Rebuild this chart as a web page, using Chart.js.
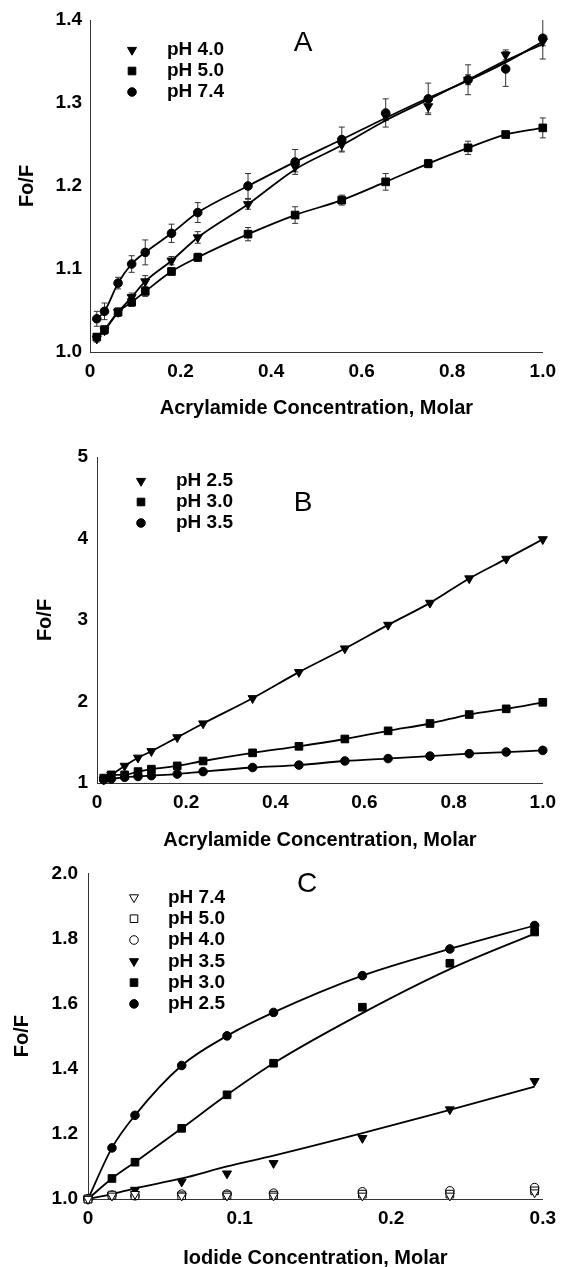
<!DOCTYPE html>
<html>
<head>
<meta charset="utf-8">
<script src="https://cdn.jsdelivr.net/npm/chart.js@4.4.0/dist/chart.umd.min.js"></script>
<style>
  html, body { margin: 0; padding: 0; background: #fff; }
  .panel { position: absolute; left: 0; width: 564px; }
</style>
</head>
<body>
<div class="panel" style="top:0"><canvas id="chartA" width="564" height="420"></canvas></div>
<div class="panel" style="top:420px"><canvas id="chartB" width="564" height="432"></canvas></div>
<div class="panel" style="top:852px"><canvas id="chartC" width="564" height="415"></canvas></div>
<script>
// acrylamide concentrations (panels A and B)
const acrylamide = [0.015, 0.032, 0.062, 0.092, 0.122, 0.18, 0.238, 0.349, 0.453, 0.556, 0.653, 0.747, 0.835, 0.918, 1.0]

// panel A
const a_pH40 = [1.016, 1.026, 1.048, 1.066, 1.085, 1.11, 1.138, 1.178, 1.223, 1.25, 1.284, 1.296, 1.328, 1.358, 1.374]
const a_pH50 = [1.018, 1.027, 1.048, 1.06, 1.073, 1.097, 1.114, 1.142, 1.165, 1.183, 1.205, 1.227, 1.246, 1.262, 1.27]
const a_pH74 = [1.04, 1.049, 1.083, 1.106, 1.12, 1.143, 1.168, 1.2, 1.229, 1.256, 1.288, 1.305, 1.328, 1.341, 1.378]
const a_fit40 = [1.016, 1.026, 1.048, 1.066, 1.085, 1.11, 1.138, 1.178, 1.22, 1.249, 1.279, 1.304, 1.328, 1.351, 1.371]
const a_fit74 = [1.04, 1.049, 1.083, 1.106, 1.12, 1.143, 1.168, 1.2, 1.229, 1.256, 1.282, 1.306, 1.327, 1.349, 1.374]
const a_err40 = [0.004, 0.005, 0.005, 0.005, 0.007, 0.005, 0.007, 0.006, 0.006, 0.008, 0.005, 0.008, 0.006, 0.006, 0.005]
const a_err50 = [0.004, 0.004, 0.005, 0.005, 0.006, 0.004, 0.005, 0.008, 0.01, 0.006, 0.01, 0.005, 0.008, 0.004, 0.012]
const a_err74 = [0.009, 0.01, 0.007, 0.01, 0.015, 0.011, 0.012, 0.015, 0.015, 0.015, 0.017, 0.019, 0.018, 0.021, 0.025]

// panel B
const b_pH25 = [1.04, 1.1, 1.21, 1.31, 1.39, 1.56, 1.73, 2.04, 2.36, 2.65, 2.94, 3.21, 3.51, 3.75, 3.99]
const b_pH30 = [1.06, 1.1, 1.1, 1.14, 1.17, 1.21, 1.27, 1.37, 1.45, 1.54, 1.64, 1.73, 1.84, 1.91, 1.99]
const b_pH35 = [1.04, 1.05, 1.07, 1.08, 1.09, 1.11, 1.14, 1.19, 1.22, 1.27, 1.3, 1.33, 1.36, 1.38, 1.4]

// panel C (iodide)
const iodide = [0, 0.0158, 0.031, 0.0618, 0.0917, 0.1224, 0.181, 0.2387, 0.2946]
const c_pH74 = [1.0, 1.01, 1.015, 1.01, 1.01, 1.01, 1.01, 1.01, 1.02]
const c_pH50 = [1.0, 1.012, 1.01, 1.01, 1.012, 1.012, 1.015, 1.015, 1.025]
const c_pH40 = [1.0, 1.012, 1.01, 1.015, 1.015, 1.018, 1.022, 1.025, 1.035]
const c_pH35 = [1.0, 1.012, 1.028, 1.053, 1.078, 1.11, 1.187, 1.275, 1.362]
const c_pH30 = [1.0, 1.063, 1.113, 1.217, 1.32, 1.417, 1.589, 1.724, 1.82]
const c_pH25 = [1.0, 1.157, 1.257, 1.41, 1.501, 1.573, 1.686, 1.768, 1.84]
const c_fit35 = [1.0, 1.015, 1.033, 1.063, 1.1, 1.133, 1.202, 1.274, 1.345]
const c_fit30 = [1.0, 1.063, 1.113, 1.217, 1.32, 1.417, 1.571, 1.706, 1.815]

// tick labels
const ticksAx = ['0', '0.2', '0.4', '0.6', '0.8', '1.0']
const ticksAy = ['1.0', '1.1', '1.2', '1.3', '1.4']
const ticksBy = ['1', '2', '3', '4', '5']
const ticksCx = ['0', '0.1', '0.2', '0.3']
const ticksCy = ['1.0', '1.2', '1.4', '1.6', '1.8', '2.0']

const FONT = '"Liberation Sans", Arial, Helvetica, sans-serif'
const tickFont = { family: FONT, size: 19, weight: 'bold' }
const titleFont = { family: FONT, size: 20, weight: 'bold' }

const pts = (xs, ys) => xs.map((x, i) => ({ x: x, y: ys[i] }))
const pickLabel = (labels) => (v) => {
  const l = labels.find(t => Math.abs(parseFloat(t) - v) < 1e-6)
  return l === undefined ? '' : l
}

// black markers, optionally joined by a line
function series(label, xs, ys, style, opts) {
  const o = opts || {}
  const isTri = style === 'triangle'
  return Object.assign({
    label: label,
    data: pts(xs, ys),
    borderColor: '#000',
    borderWidth: 1.8,
    pointStyle: style,
    rotation: isTri ? 180 : 0,
    pointRadius: isTri ? 5.2 : (style === 'rect' ? 5.4 : 4.3),
    pointBackgroundColor: '#000',
    pointBorderColor: '#000',
    pointBorderWidth: 1,
    cubicInterpolationMode: 'monotone',
    showLine: true,
    clip: false,
    legend: true
  }, o)
}
// fitted curve only
const fit = (xs, ys) => series('fit', xs, ys, 'circle', { pointRadius: 0, legend: false })

// error bars drawn under the markers
const errorBars = {
  id: 'errorBars',
  beforeDatasetsDraw(chart) {
    const { ctx, chartArea, scales: { x, y } } = chart
    ctx.save()
    ctx.beginPath()
    ctx.rect(chartArea.left - 10, chartArea.top, chartArea.right - chartArea.left + 20, chartArea.bottom - chartArea.top)
    ctx.clip()
    ctx.strokeStyle = '#333'
    ctx.lineWidth = 1
    chart.data.datasets.forEach(ds => {
      if (!ds.errors) return
      ds.data.forEach((p, i) => {
        const px = x.getPixelForValue(p.x)
        const t = y.getPixelForValue(p.y + ds.errors[i])
        const b = y.getPixelForValue(p.y - ds.errors[i])
        ctx.beginPath()
        ctx.moveTo(px, t); ctx.lineTo(px, b)
        ctx.moveTo(px - 3, t); ctx.lineTo(px + 3, t)
        ctx.moveTo(px - 3, b); ctx.lineTo(px + 3, b)
        ctx.stroke()
      })
    })
    ctx.restore()
  }
}

function marker(ctx, style, fill, cx, cy) {
  ctx.beginPath()
  if (style === 'triangle') {
    const r = 5.2
    ctx.moveTo(cx - r * 0.866, cy - r * 0.5)
    ctx.lineTo(cx + r * 0.866, cy - r * 0.5)
    ctx.lineTo(cx, cy + r)
    ctx.closePath()
  } else if (style === 'rect') {
    ctx.rect(cx - 3.8, cy - 3.8, 7.6, 7.6)
  } else {
    ctx.arc(cx, cy, 4.3, 0, Math.PI * 2)
  }
  ctx.fillStyle = fill
  ctx.fill()
  ctx.strokeStyle = '#000'
  ctx.lineWidth = 1
  ctx.stroke()
}

// legend inside the plot plus the panel letter
const panelLegend = {
  id: 'panelLegend',
  afterDraw(chart, args, opts) {
    const { ctx, chartArea } = chart
    ctx.save()
    let row = 0
    chart.data.datasets.forEach(ds => {
      if (!ds.legend) return
      const y = chartArea.top + opts.top + row * opts.gap
      marker(ctx, ds.pointStyle, ds.pointBackgroundColor, chartArea.left + opts.marker, y)
      ctx.fillStyle = '#000'
      ctx.font = 'bold 19px ' + FONT
      ctx.textBaseline = 'middle'
      ctx.textAlign = 'left'
      ctx.fillText(ds.label, chartArea.left + opts.text, y)
      row++
    })
    ctx.font = '28px ' + FONT
    ctx.textAlign = 'center'
    ctx.textBaseline = 'middle'
    ctx.fillStyle = '#000'
    ctx.fillText(opts.letter, chartArea.left + opts.letterX, chartArea.top + opts.letterY)
    ctx.restore()
  }
}

function scales(o) {
  return {
    x: {
      type: 'linear', min: o.xMin, max: o.xMax,
      afterFit: s => { s.height = o.xH },
      grid: { display: false, drawTicks: false },
      border: { display: true, color: '#333', width: 1 },
      ticks: { stepSize: o.xStep, padding: 8, color: '#000', font: tickFont, maxRotation: 0, autoSkip: false, callback: pickLabel(o.xLabels) },
      title: { display: true, text: o.xTitle, color: '#000', font: titleFont, padding: { top: 0, bottom: o.xTitlePad } }
    },
    y: {
      type: 'linear', min: o.yMin, max: o.yMax,
      afterFit: s => { s.width = o.yW },
      grid: { display: false, drawTicks: false },
      border: { display: true, color: '#333', width: 1 },
      ticks: { stepSize: o.yStep, padding: o.yPad, color: '#000', font: tickFont, autoSkip: false, callback: pickLabel(o.yLabels) },
      title: { display: true, text: 'Fo/F', color: '#000', font: titleFont, padding: { top: o.yTitlePad, bottom: 0 } }
    }
  }
}

function common(pad, sc, leg) {
  return {
    responsive: false,
    animation: false,
    layout: { padding: pad },
    scales: sc,
    plugins: { legend: { display: false }, tooltip: { enabled: false }, panelLegend: leg }
  }
}

const noLine = { showLine: false }

new Chart(document.getElementById('chartA'), {
  type: 'line',
  data: {
    datasets: [
      series('pH 4.0', acrylamide, a_pH40, 'triangle', { errors: a_err40, showLine: false }),
      series('pH 5.0', acrylamide, a_pH50, 'rect', { errors: a_err50 }),
      series('pH 7.4', acrylamide, a_pH74, 'circle', { errors: a_err74, showLine: false }),
      fit(acrylamide, a_fit40),
      fit(acrylamide, a_fit74)
    ]
  },
  options: common({ left: 0, right: 17, top: 20, bottom: 0 },
    scales({ xMin: 0, xMax: 1, xStep: 0.2, xLabels: ticksAx, xH: 68, xTitle: 'Acrylamide Concentration, Molar', xTitlePad: 0,
             yMin: 1.0, yMax: 1.4, yStep: 0.1, yLabels: ticksAy, yW: 90, yPad: 8, yTitlePad: 15 }),
    { top: 30, gap: 21, marker: 42, text: 77, letter: 'A', letterX: 213, letterY: 23 }),
  plugins: [errorBars, panelLegend]
})

new Chart(document.getElementById('chartB'), {
  type: 'line',
  data: {
    datasets: [
      series('pH 2.5', acrylamide, b_pH25, 'triangle'),
      series('pH 3.0', acrylamide, b_pH30, 'rect'),
      series('pH 3.5', acrylamide, b_pH35, 'circle')
    ]
  },
  options: common({ left: 0, right: 17, top: 37, bottom: 0 },
    scales({ xMin: 0, xMax: 1, xStep: 0.2, xLabels: ticksAx, xH: 69, xTitle: 'Acrylamide Concentration, Molar', xTitlePad: 0,
             yMin: 1, yMax: 5, yStep: 1, yLabels: ticksBy, yW: 97, yPad: 9, yTitlePad: 33 }),
    { top: 24, gap: 21, marker: 44, text: 79, letter: 'B', letterX: 206, letterY: 46 }),
  plugins: [panelLegend]
})

const open = { pointBackgroundColor: '#fff', showLine: false }
new Chart(document.getElementById('chartC'), {
  type: 'line',
  data: {
    datasets: [
      series('pH 7.4', iodide, c_pH74, 'triangle', open),
      series('pH 5.0', iodide, c_pH50, 'rect', open),
      series('pH 4.0', iodide, c_pH40, 'circle', open),
      series('pH 3.5', iodide, c_pH35, 'triangle', noLine),
      series('pH 3.0', iodide, c_pH30, 'rect', noLine),
      series('pH 2.5', iodide, c_pH25, 'circle'),
      fit(iodide, c_fit35),
      fit(iodide, c_fit30)
    ]
  },
  options: common({ left: 0, right: 19, top: 14, bottom: 0 },
    scales({ xMin: 0, xMax: 0.3, xStep: 0.1, xLabels: ticksCx, xH: 68, xTitle: 'Iodide Concentration, Molar', xTitlePad: -3,
             yMin: 1.0, yMax: 2.0, yStep: 0.2, yLabels: ticksCy, yW: 88, yPad: 10, yTitlePad: 10 }),
    { top: 24, gap: 21.3, marker: 46, text: 80, letter: 'C', letterX: 219, letterY: 11 }),
  plugins: [panelLegend]
})
</script>
</body>
</html>
